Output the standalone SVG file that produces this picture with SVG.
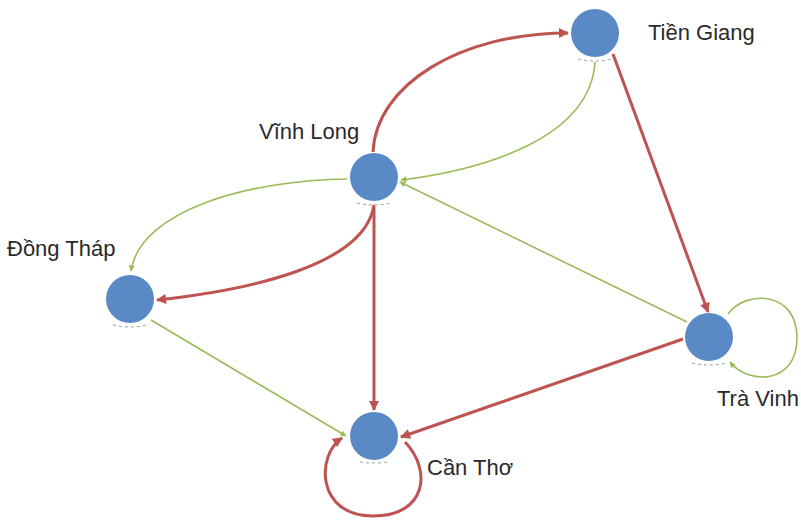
<svg xmlns="http://www.w3.org/2000/svg" width="801" height="524" viewBox="0 0 801 524">
<defs>
<style>
.node{fill:#5A8AC6;}
.shadow{fill:none;stroke:#9a9a9a;stroke-width:1;stroke-dasharray:3 3;}
.red{fill:none;stroke:#BD5451;stroke-width:3;marker-end:url(#ar);}
.green{fill:none;stroke:#9BBB59;stroke-width:1.6;marker-end:url(#ag);}
.lbl{font-family:"Liberation Sans",Arial,sans-serif;font-size:22px;fill:#2a2a2a;}
</style>
<marker id="ar" viewBox="0 0 10 10" refX="9" refY="5" markerUnits="userSpaceOnUse" markerWidth="12" markerHeight="10" orient="auto">
<path d="M0,0 L10,5 L0,10 z" fill="#BD5451"/>
</marker>
<marker id="ag" viewBox="0 0 10 10" refX="9" refY="5" markerUnits="userSpaceOnUse" markerWidth="7" markerHeight="6" orient="auto">
<path d="M0,0 L10,5 L0,10 z" fill="#9BBB59"/>
</marker>
</defs>
<rect width="801" height="524" fill="#ffffff"/>
<g id="connectors">
<path class="red" d="M373,152 C376,85 460,33 568,33"/>
<path class="red" d="M613,54 L708,312"/>
<path class="red" d="M374,205 C365,265 250,290 157,300"/>
<path class="red" d="M374,207 L374,410"/>
<path class="red" d="M683,339 L401,437"/>
<path class="red" d="M405,442 C432,470 427,516 373,516 C316,516 316,455 342,438"/>
<path class="green" d="M595,62 C590,140 480,170 401,180"/>
<path class="green" d="M687,322 L400,182"/>
<path class="green" d="M347,179 C250,180 140,210 131,271"/>
<path class="green" d="M151,320 L346,436"/>
<path class="green" d="M728,314 C745,290 797,290 797,338 C797,385 748,385 730,362"/>
</g>
<g id="tien-giang">
<circle class="node" cx="595" cy="33" r="24"/>
<path class="shadow" d="M578,59 Q595,63 612,59"/>
<text class="lbl" x="648" y="40">Tiền Giang</text>
</g>
<g id="vinh-long">
<circle class="node" cx="374" cy="177" r="24"/>
<path class="shadow" d="M357,203 Q374,207 391,203"/>
<text class="lbl" x="259" y="139">Vĩnh Long</text>
</g>
<g id="dong-thap">
<circle class="node" cx="130" cy="299" r="24"/>
<path class="shadow" d="M113,325 Q130,329 147,325"/>
<text class="lbl" x="7" y="256">Đồng Tháp</text>
</g>
<g id="can-tho">
<circle class="node" cx="374" cy="436" r="24"/>
<path class="shadow" d="M360,462 Q374,464 388,462"/>
<text class="lbl" x="427" y="475">Cần Thơ</text>
</g>
<g id="tra-vinh">
<circle class="node" cx="709" cy="337" r="24"/>
<path class="shadow" d="M692,363 Q709,367 726,363"/>
<text class="lbl" x="717" y="406">Trà Vinh</text>
</g>
</svg>
